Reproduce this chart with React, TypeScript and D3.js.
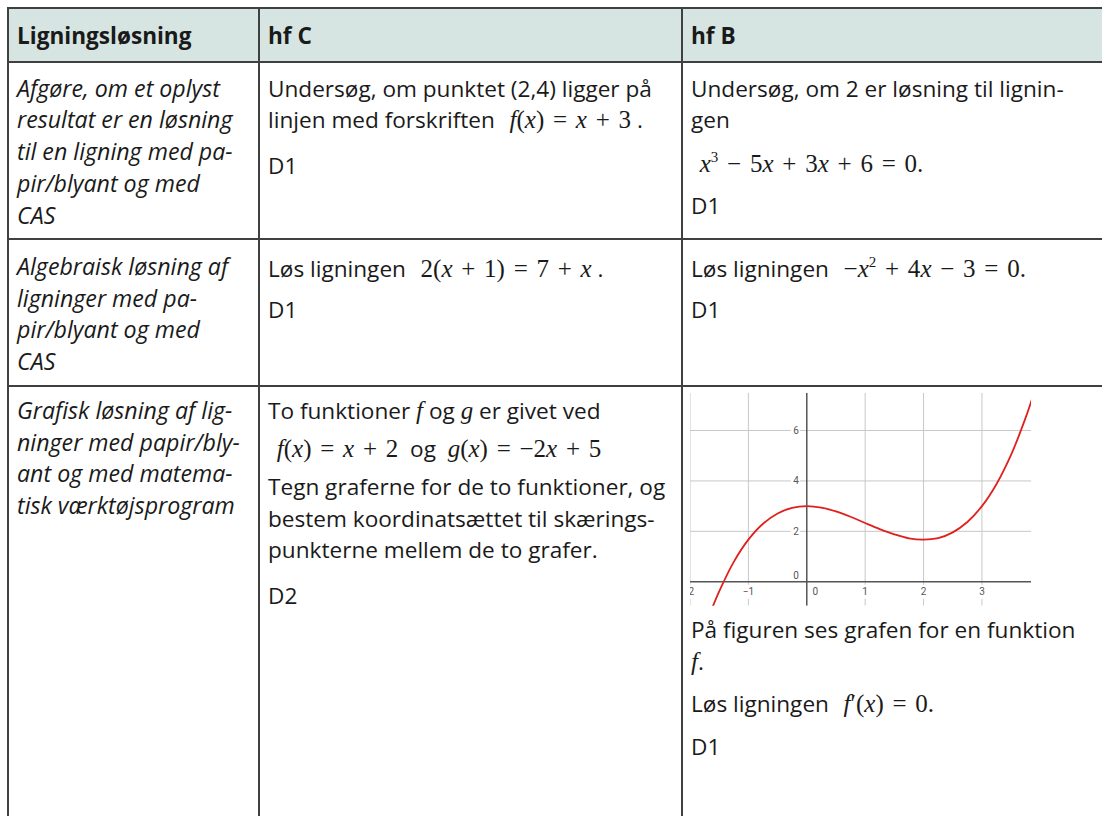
import { useMemo } from 'react'
import * as d3 from 'd3'

// ---- table content ----
const HEADERS = ['Ligningsløsning', 'hf C', 'hf B']

// column 1: competence descriptions (italic), one entry per row
const TOPICS = [
  ['Afgøre, om et oplyst', 'resultat er en løsning', 'til en ligning med pa-', 'pir/blyant og med', 'CAS'],
  ['Algebraisk løsning af', 'ligninger med pa-', 'pir/blyant og med', 'CAS'],
  ['Grafisk løsning af lig-', 'ninger med papir/bly-', 'ant og med matema-', 'tisk værktøjsprogram'],
]

// columns 2 and 3: paragraphs -> lines. $...$ marks math, ^ a superscript digit
const HF_C = [
  [['Undersøg, om punktet (2,4) ligger på', 'linjen med forskriften $ f(x) = x + 3$ .'], ['D1']],
  [['Løs ligningen $ 2(x + 1) = 7 + x$ .'], ['D1']],
  [
    ['To funktioner $f$ og $g$ er givet ved'],
    ['$ f(x) = x + 2$  og  $g(x) = −2x + 5$'],
    ['Tegn graferne for de to funktioner, og', 'bestem koordinatsættet til skærings-', 'punkterne mellem de to grafer.'],
    ['D2'],
  ],
]

const HF_B = [
  [['Undersøg, om 2 er løsning til lignin-', 'gen'], ['$ x^3 − 5x + 3x + 6 = 0.$'], ['D1']],
  [['Løs ligningen $ −x^2 + 4x − 3 = 0.$'], ['D1']],
  [['På figuren ses grafen for en funktion', '$f$.'], ['Løs ligningen $ f′(x) = 0.$'], ['D1']],
]

// ---- graph in the last cell ----
const CURVE_X = [-1.62, -1.5, -1.25, -1, -0.75, -0.5, -0.25, 0, 0.25, 0.5, 0.75, 1, 1.25, 1.5, 1.75, 2, 2.25, 2.5, 2.75, 3, 3.25, 3.5, 3.75, 3.86]
const CURVE_Y = [-1.04, -0.38, 0.79, 1.67, 2.3, 2.71, 2.93, 3.0, 2.94, 2.79, 2.58, 2.33, 2.09, 1.88, 1.72, 1.67, 1.73, 1.96, 2.37, 3.0, 3.88, 5.04, 6.52, 7.27]
const X_TICKS = [-2, -1, 0, 1, 2, 3]
const X_TICK_LABELS = ['-2', '−1', '0', '1', '2', '3']
const Y_TICKS = [0, 2, 4, 6]
const X_DOMAIN = [-2, 3.84]
const Y_DOMAIN = [-0.95, 7.5]

// ---- layout ----
const LEFT = 8
const TOP = 8
const HEAD_BOTTOM = 62
const ROW_BOTTOMS = [239, 386]
const COL_X = [8, 259, 682]
const TEXT_X = [17, 268, 691]
const LINE = 31.7
// first baseline of each paragraph, per row
const P_TOPIC = [96.7, 275, 419]
const P_HF_C = [[96.7, 174], [276.7, 318.3], [419, 456.7, 495, 604]]
const P_HF_B = [[96.7, 171.7, 214], [276.7, 318.3], [638.3, 711.7, 755]]
const GRAPH = { left: 690, right: 1031, top: 392.7, bottom: 605.7 }

const SANS = '"Open Sans", "Noto Sans", sans-serif'
const MATH = '"Liberation Serif", "DejaVu Serif", serif'
const FS = 22.6
const FS_ITALIC = 23.2
const FS_MATH = 25
const INK = '#1a1a1a'
const RULE = '#404040'

type Run = { t: string; k: 'txt' | 'mi' | 'mu' | 'sup' }

function parseLine(s: string): Run[] {
  const runs: Run[] = []
  const push = (c: string, k: Run['k']) => {
    const last = runs[runs.length - 1]
    if (last && last.k === k && k !== 'sup') last.t += c
    else runs.push({ t: c, k })
  }
  let math = false
  for (let i = 0; i < s.length; i++) {
    const c = s[i]
    if (c === '$') { math = !math; continue }
    if (!math) push(c, 'txt')
    else if (c === '^') { push(s[i + 1], 'sup'); i++ }
    else if (/[a-z]/.test(c)) push(c, 'mi')
    else push(c, 'mu')
  }
  return runs
}

function Line({ x, y, text, italic = false }: { x: number; y: number; text: string; italic?: boolean }) {
  const runs = parseLine(text)
  let shift = 0
  return (
    <text
      x={x}
      y={y}
      fill={INK}
      fontFamily={SANS}
      fontSize={italic ? FS_ITALIC : FS}
      fontStyle={italic ? 'italic' : 'normal'}
      style={{ whiteSpace: 'pre' }}
    >
      {runs.map((r, i) => {
        let dy = 0
        if (r.k === 'sup') { dy = -10 - shift; shift = -10 }
        else if (shift !== 0) { dy = -shift; shift = 0 }
        if (r.k === 'txt') return <tspan key={i} dy={dy || undefined}>{r.t}</tspan>
        return (
          <tspan
            key={i}
            dy={dy || undefined}
            fontFamily={MATH}
            fontSize={r.k === 'sup' ? 15 : FS_MATH}
            fontStyle={r.k === 'mi' ? 'italic' : 'normal'}
            wordSpacing={2.5}
          >
            {r.t}
          </tspan>
        )
      })}
    </text>
  )
}

function Paragraphs({ x, paras, starts }: { x: number; paras: string[][]; starts: number[] }) {
  return (
    <g>
      {paras.map((lines, p) =>
        lines.map((l, j) => <Line key={`${p}-${j}`} x={x} y={starts[p] + j * LINE} text={l} />)
      )}
    </g>
  )
}

function Graph() {
  const x = useMemo(() => d3.scaleLinear().domain(X_DOMAIN).range([GRAPH.left, GRAPH.right]), [])
  const y = useMemo(() => d3.scaleLinear().domain(Y_DOMAIN).range([GRAPH.bottom, GRAPH.top]), [])
  const pts: [number, number][] = CURVE_X.map((v, i) => [v, CURVE_Y[i]])
  const path = d3.line<[number, number]>()
    .x(d => x(d[0]))
    .y(d => y(d[1]))
    .curve(d3.curveCatmullRom)(pts)

  const grid = '#c8c8c8'
  const axis = '#555'
  const label = '#555'

  return (
    <g>
      <defs>
        <clipPath id="graph-clip">
          <rect x={GRAPH.left} y={GRAPH.top} width={GRAPH.right - GRAPH.left} height={GRAPH.bottom - GRAPH.top} />
        </clipPath>
      </defs>
      <g clipPath="url(#graph-clip)">
        {/* grid */}
        {X_TICKS.filter(t => t !== 0).map(t => (
          <line key={`gx${t}`} x1={x(t)} x2={x(t)} y1={GRAPH.top} y2={GRAPH.bottom} stroke={grid} strokeWidth={1} />
        ))}
        {Y_TICKS.filter(t => t !== 0).map(t => (
          <line key={`gy${t}`} x1={GRAPH.left} x2={GRAPH.right} y1={y(t)} y2={y(t)} stroke={grid} strokeWidth={1} />
        ))}
        {/* axes */}
        <line x1={GRAPH.left} x2={GRAPH.right} y1={y(0)} y2={y(0)} stroke={axis} strokeWidth={1.5} />
        <line x1={x(0)} x2={x(0)} y1={GRAPH.top} y2={GRAPH.bottom} stroke={axis} strokeWidth={1.5} />
        {/* tick labels on white */}
        {X_TICKS.map((t, i) => {
          const s = X_TICK_LABELS[i]
          const w = s.length * 6 + 3
          const cx = t === 0 ? x(0) + 4 + w / 2 : x(t)
          const cy = y(0) + 10
          return (
            <g key={`lx${t}`}>
              <rect x={cx - w / 2} y={cy - 7} width={w} height={14} fill="#fff" />
              <text x={cx} y={cy} dy="0.35em" textAnchor="middle" fontFamily="Roboto, sans-serif" fontSize={10} fill={label}>{s}</text>
            </g>
          )
        })}
        {Y_TICKS.map(t => {
          const cy = t === 0 ? y(0) - 6 : y(t)
          const rx = x(0) - 8
          return (
            <g key={`ly${t}`}>
              {t !== 0 && <rect x={rx - 8} y={cy - 7} width={9} height={14} fill="#fff" />}
              <text x={rx} y={cy} dy="0.35em" textAnchor="end" fontFamily="Roboto, sans-serif" fontSize={10} fill={label}>{t}</text>
            </g>
          )
        })}
        {/* f */}
        <path d={path ?? ''} fill="none" stroke="#e0201c" strokeWidth={1.8} />
      </g>
    </g>
  )
}

export default function App() {
  const W = 1102
  const H = 816
  return (
    <svg width={W} height={H} style={{ position: 'absolute', left: 0, top: 0, display: 'block', background: '#fff' }}>
      {/* header band */}
      <rect x={LEFT} y={TOP} width={W - LEFT} height={HEAD_BOTTOM - TOP} fill="#d6e5e1" />
      {HEADERS.map((h, i) => (
        <text key={h} x={TEXT_X[i]} y={43.5} fontFamily={SANS} fontWeight={700} fontSize={FS} fill={INK}>{h}</text>
      ))}

      {/* column 1 */}
      {TOPICS.map((lines, r) => lines.map((l, j) => (
        <Line key={`t${r}-${j}`} x={TEXT_X[0]} y={P_TOPIC[r] + j * LINE} text={l} italic />
      )))}

      {/* hf C */}
      {HF_C.map((paras, r) => <Paragraphs key={`c${r}`} x={TEXT_X[1]} paras={paras} starts={P_HF_C[r]} />)}

      {/* hf B */}
      {HF_B.map((paras, r) => <Paragraphs key={`b${r}`} x={TEXT_X[2]} paras={paras} starts={P_HF_B[r]} />)}

      <Graph />

      {/* rules */}
      {[TOP, HEAD_BOTTOM, ...ROW_BOTTOMS].map(yy => (
        <line key={`h${yy}`} x1={LEFT - 1} x2={W} y1={yy} y2={yy} stroke={RULE} strokeWidth={2} />
      ))}
      {COL_X.map(xx => (
        <line key={`v${xx}`} x1={xx} x2={xx} y1={TOP - 1} y2={H} stroke={RULE} strokeWidth={2} />
      ))}
    </svg>
  )
}
